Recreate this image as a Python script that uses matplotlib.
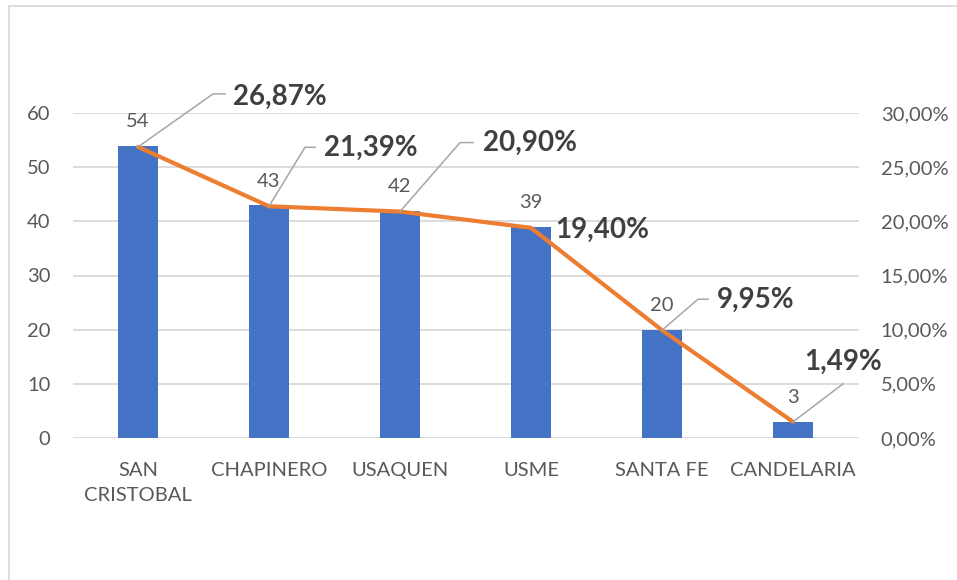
import matplotlib
matplotlib.use("Agg")
import matplotlib.pyplot as plt
import matplotlib.transforms as mtransforms
from matplotlib.patches import Rectangle
import numpy as np

plt.rcParams["font.family"] = ["Lato", "DejaVu Sans"]

localidades = ["SAN\nCRISTOBAL", "CHAPINERO", "USAQUEN", "USME", "SANTA FE", "CANDELARIA"]
casos = [54, 43, 42, 39, 20, 3]
porcentaje = [0.2687, 0.2139, 0.2090, 0.1940, 0.0995, 0.0149]
left_ticks = [0, 10, 20, 30, 40, 50, 60]
right_ticks = [0.0, 0.05, 0.10, 0.15, 0.20, 0.25, 0.30]

BAR = "#4472C4"
LINE = "#ED7D31"
GRID = "#D9D9D9"
TXT = "#595959"
BOLD = "#404040"
LEAD = "#A6A6A6"

W, H = 957, 580
fig = plt.figure(figsize=(W / 100, H / 100), dpi=100)
ax = fig.add_axes([72.5 / W, (H - 438) / H, 786 / W, 325 / H])
ax2 = ax.twinx()

x = np.arange(len(localidades))
ax.bar(x, casos, width=0.31, color=BAR, zorder=2)
ax.set_xlim(-0.5, len(x) - 0.5)
ax.set_ylim(0, 60)
ax.set_yticks(left_ticks)
ax.grid(axis="y", color=GRID, lw=1.3, zorder=0)
ax.set_axisbelow(True)
ax.set_xticks(x)
ax.set_xticklabels(localidades, fontsize=14.5, color=TXT, linespacing=1.6)
ax.tick_params(axis="x", length=0, pad=17)
ax.tick_params(axis="y", length=0, pad=16, labelsize=14.5, labelcolor=TXT)
for s in ax.spines.values():
    s.set_visible(False)
for s in ax2.spines.values():
    s.set_visible(False)

ax2.plot(x, porcentaje, color=LINE, lw=3.0, solid_capstyle="round",
         solid_joinstyle="round", zorder=4)
ax2.set_ylim(0, 0.30)
ax2.set_yticks(right_ticks)
ax2.set_yticklabels([f"{v * 100:.2f}%".replace(".", ",") for v in right_ticks])
ax2.tick_params(axis="y", length=0, pad=16, labelsize=14.5, labelcolor=TXT)

# bar value labels
for xi, v in zip(x, casos):
    tr = mtransforms.offset_copy(ax.transData, fig=fig, x=0, y=24, units="dots")
    ax.text(xi, v, str(v), transform=tr, ha="center", va="center",
            fontsize=14.5, color=TXT, zorder=5)

# percentage labels: knee offset, end of horizontal tail, text offset (pixels)
leaders = [
    ((75, 53), 87, (95, 50)),
    ((36, 59), 46, (55, 58)),
    ((60, 69), 73, (83, 69)),
    (None, None, (24, -2)),
    ((36, 31), 46, (55, 30)),
    ((50, 38), None, (11, 60)),
]
fig.canvas.draw()
for xi, p, (knee, end, toff) in zip(x, porcentaje, leaders):
    if knee is not None:
        xs = [0, knee[0]] + ([end] if end is not None else [])
        ys = [0, knee[1]] + ([knee[1]] if end is not None else [])
        base = ax2.transData.transform((xi, p))
        pts = np.array([base + np.array([a, b]) for a, b in zip(xs, ys)])
        fig.add_artist(plt.Line2D(pts[:, 0], pts[:, 1], transform=None,
                                  color=LEAD, lw=1.1, zorder=6))
    tr = mtransforms.offset_copy(ax2.transData, fig=fig, x=toff[0], y=toff[1], units="dots")
    ax2.text(xi, p, f"{p * 100:.2f}%".replace(".", ","), transform=tr,
             ha="left", va="center", fontsize=20, fontweight="bold",
             color=BOLD, zorder=7)

fig.add_artist(Rectangle((9 / W, -0.1), 1.2, (H - 6) / H + 0.1,
                         transform=fig.transFigure, fill=False,
                         edgecolor="#D9D9D9", lw=1.3))

fig.savefig("out.png", dpi=100)
